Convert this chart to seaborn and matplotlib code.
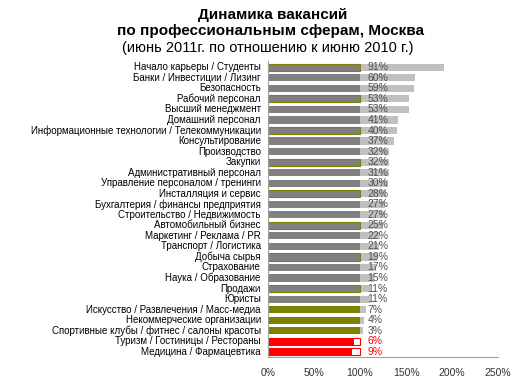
import pandas as pd
import seaborn as sns
import matplotlib.pyplot as plt

# Data: change of vacancies, June 2011 vs June 2010 (%)
categories = [
    "Начало карьеры / Студенты", "Банки / Инвестиции / Лизинг", "Безопасность",
    "Рабочий персонал", "Высший менеджмент", "Домашний персонал",
    "Информационные технологии / Телекоммуникации", "Консультирование",
    "Производство", "Закупки", "Административный персонал",
    "Управление персоналом / тренинги", "Инсталляция и сервис",
    "Бухгалтерия / финансы предприятия", "Строительство / Недвижимость",
    "Автомобильный бизнес", "Маркетинг / Реклама / PR", "Транспорт / Логистика",
    "Добыча сырья", "Страхование", "Наука / Образование", "Продажи", "Юристы",
    "Искусство / Развлечения / Масс-медиа", "Некоммерческие организации",
    "Спортивные клубы / фитнес / салоны красоты",
    "Туризм / Гостиницы / Рестораны", "Медицина / Фармацевтика",
]
changes = [91, 60, 59, 53, 53, 41, 40, 37, 32, 32, 31, 30, 28, 27, 27, 25,
           22, 21, 19, 17, 15, 11, 11, 7, 4, 3, -6, -9]
olive_edge = ["Начало карьеры / Студенты", "Рабочий персонал",
              "Информационные технологии / Телекоммуникации", "Закупки",
              "Инсталляция и сервис", "Автомобильный бизнес", "Добыча сырья",
              "Продажи"]
olive_fill = ["Искусство / Развлечения / Масс-медиа", "Некоммерческие организации",
              "Спортивные клубы / фитнес / салоны красоты"]

df = pd.DataFrame({"cat": categories, "chg": changes})
df["outer"] = df["chg"].clip(lower=0) + 100
df["inner"] = df["chg"].clip(upper=0) + 100

outer_colors = {c: ("white" if v < 0 else "#C0C0C0") for c, v in zip(categories, changes)}
inner_colors = {}
for c, v in zip(categories, changes):
    if v < 0:
        inner_colors[c] = "#FF0000"
    elif c in olive_fill:
        inner_colors[c] = "#808000"
    else:
        inner_colors[c] = "#808080"

plt.rcParams["font.family"] = ["Liberation Sans", "DejaVu Sans"]
fig = plt.figure(figsize=(5.2, 3.86), dpi=100)
ax = fig.add_axes([0.515, 0.075, 0.443, 0.767])

# light gray / white "outer" bars first, base bars drawn over them
sns.barplot(data=df, x="outer", y="cat", hue="cat", palette=outer_colors,
            dodge=False, legend=False, width=0.68, ax=ax, saturation=1)
n = len(categories)
for i, p in enumerate(ax.patches[:n]):
    if changes[i] < 0:
        p.set_edgecolor("#FF0000")
        p.set_linewidth(0.8)

sns.barplot(data=df, x="inner", y="cat", hue="cat", palette=inner_colors,
            dodge=False, legend=False, width=0.68, ax=ax, saturation=1)
for i, p in enumerate(ax.patches[n:2 * n]):
    if categories[i] in olive_edge:
        p.set_edgecolor("#808000")
        p.set_linewidth(0.8)

for i, v in enumerate(changes):
    ax.text(108, i, f"{abs(v)}%", va="center", ha="left", fontsize=7.5,
            color="#FF0000" if v < 0 else "#505050")

ax.set_xlim(0, 250)
ax.set_ylim(n - 0.5, -0.6)
ax.set_yticks(range(n))
ax.set_yticklabels(categories, va="center")
ax.set_xticks([0, 50, 100, 150, 200, 250])
ax.set_xticklabels(["0%", "50%", "100%", "150%", "200%", "250%"])
ax.tick_params(axis="x", length=0, pad=8, labelsize=7.5, colors="#333333")
ax.tick_params(axis="y", length=0, pad=5, labelsize=7, colors="#000000")
ax.set_xlabel("")
ax.set_ylabel("")
for s in ["top", "right"]:
    ax.spines[s].set_visible(False)
ax.spines["left"].set_color("#A0A0A0")
ax.spines["bottom"].set_color("#A0A0A0")
ax.set_facecolor("white")

fig.text(0.525, 0.962, "Динамика вакансий", ha="center", va="center",
         fontsize=11, fontweight="bold")
fig.text(0.52, 0.919, "по профессиональным сферам, Москва", ha="center",
         va="center", fontsize=11, fontweight="bold")
fig.text(0.515, 0.876, "(июнь 2011г. по отношению к июню 2010 г.)", ha="center",
         va="center", fontsize=10.5)

plt.savefig("out.png", dpi=100)
